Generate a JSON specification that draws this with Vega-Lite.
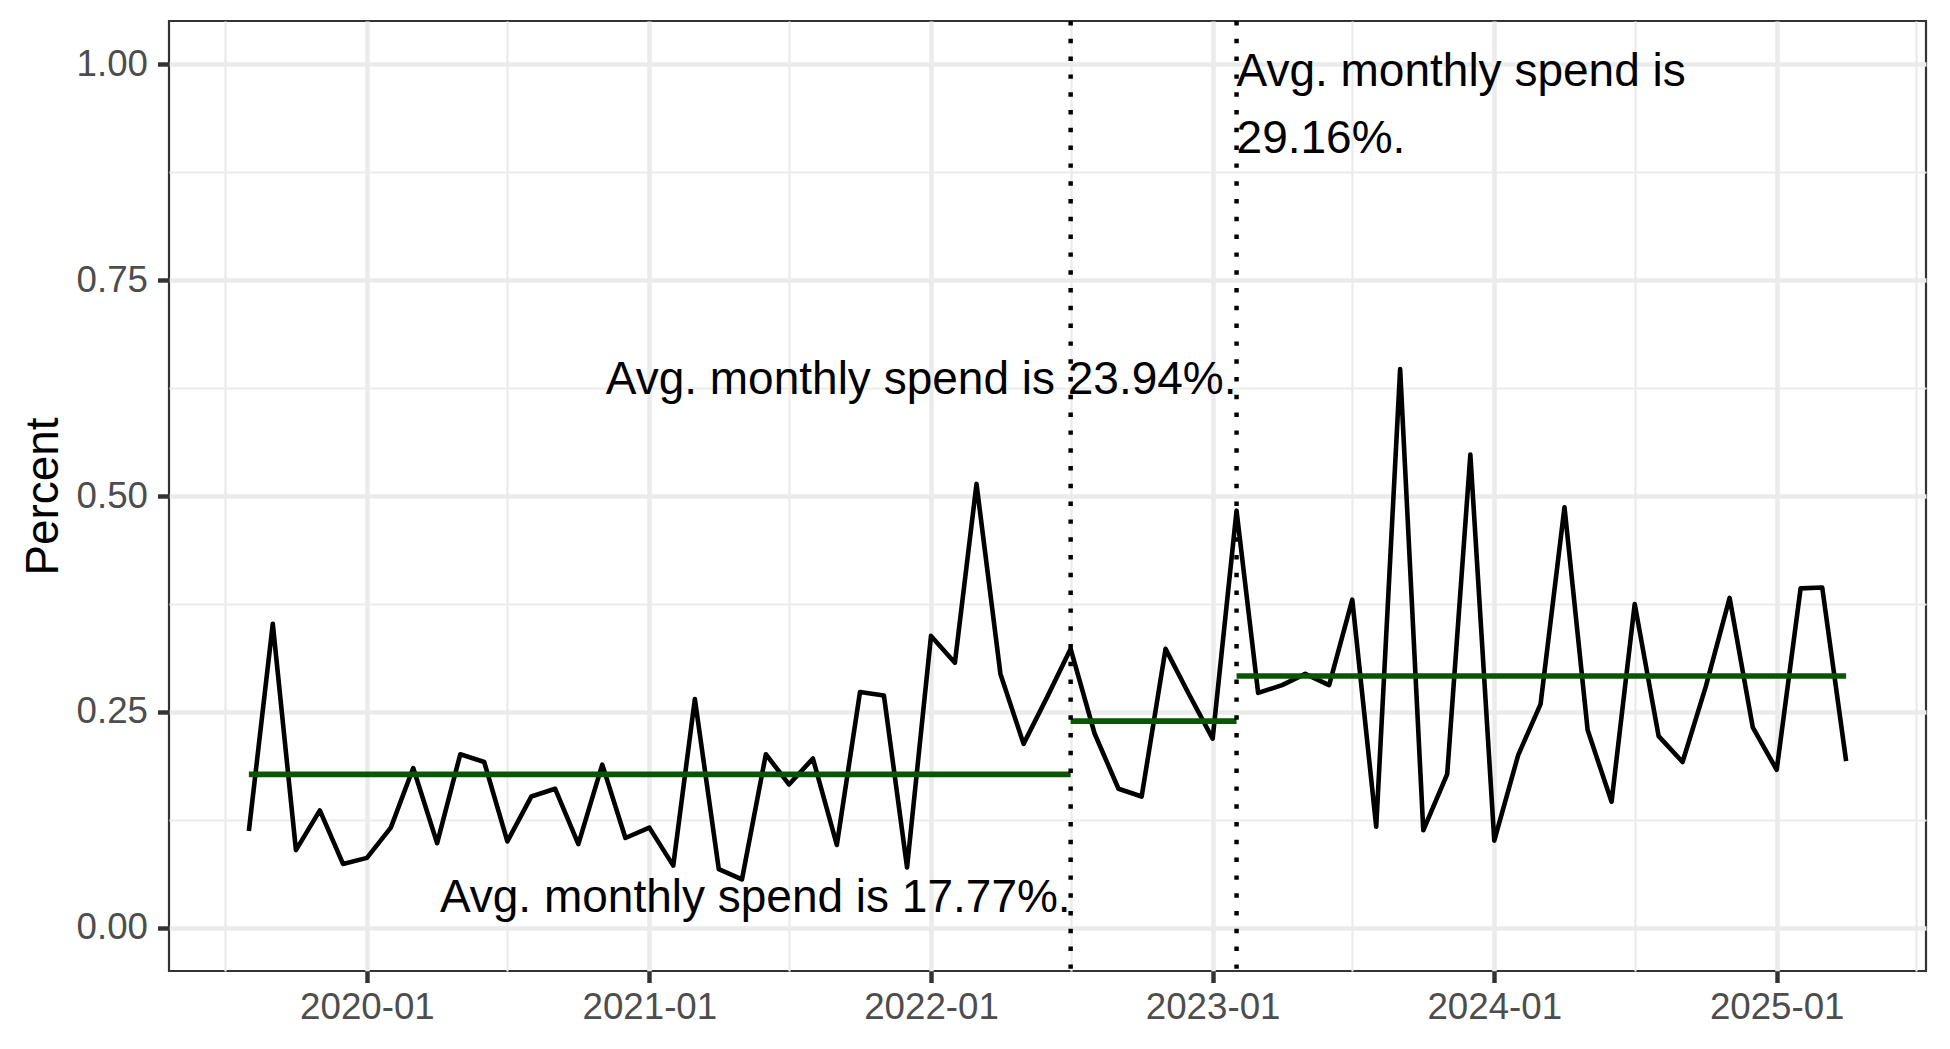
{
  "$schema": "https://vega.github.io/schema/vega-lite/v6.json",
  "width": 1757,
  "height": 950,
  "autosize": {"type": "none"},
  "padding": {"left": 169, "top": 21, "right": 24, "bottom": 78},
  "background": "white",
  "config": {
    "font": "Liberation Sans",
    "view": {"stroke": "#333333", "strokeWidth": 2.2},
    "axis": {
      "gridColor": "#EBEBEB",
      "domain": false,
      "tickColor": "#333333",
      "tickSize": 11.5,
      "tickWidth": 4.45,
      "labelFont": "Liberation Sans",
      "labelFontSize": 36.7,
      "labelColor": "#4D4D4D",
      "titleFont": "Liberation Sans",
      "titleFontSize": 45.8,
      "titleColor": "black",
      "titleFontWeight": "normal"
    }
  },
  "datasets": {
    "series": [
      {"date": "2019-08-01", "value": 0.112},
      {"date": "2019-09-01", "value": 0.352},
      {"date": "2019-10-01", "value": 0.090},
      {"date": "2019-11-01", "value": 0.136},
      {"date": "2019-12-01", "value": 0.074},
      {"date": "2020-01-01", "value": 0.081},
      {"date": "2020-02-01", "value": 0.116},
      {"date": "2020-03-01", "value": 0.185},
      {"date": "2020-04-01", "value": 0.098},
      {"date": "2020-05-01", "value": 0.201},
      {"date": "2020-06-01", "value": 0.192},
      {"date": "2020-07-01", "value": 0.100},
      {"date": "2020-08-01", "value": 0.152},
      {"date": "2020-09-01", "value": 0.161},
      {"date": "2020-10-01", "value": 0.097},
      {"date": "2020-11-01", "value": 0.189},
      {"date": "2020-12-01", "value": 0.104},
      {"date": "2021-01-01", "value": 0.116},
      {"date": "2021-02-01", "value": 0.072},
      {"date": "2021-03-01", "value": 0.265},
      {"date": "2021-04-01", "value": 0.068},
      {"date": "2021-05-01", "value": 0.056},
      {"date": "2021-06-01", "value": 0.201},
      {"date": "2021-07-01", "value": 0.166},
      {"date": "2021-08-01", "value": 0.196},
      {"date": "2021-09-01", "value": 0.096},
      {"date": "2021-10-01", "value": 0.273},
      {"date": "2021-11-01", "value": 0.269},
      {"date": "2021-12-01", "value": 0.070},
      {"date": "2022-01-01", "value": 0.338},
      {"date": "2022-02-01", "value": 0.307},
      {"date": "2022-03-01", "value": 0.514},
      {"date": "2022-04-01", "value": 0.294},
      {"date": "2022-05-01", "value": 0.213},
      {"date": "2022-06-01", "value": 0.268},
      {"date": "2022-07-01", "value": 0.323},
      {"date": "2022-08-01", "value": 0.225},
      {"date": "2022-09-01", "value": 0.161},
      {"date": "2022-10-01", "value": 0.152},
      {"date": "2022-11-01", "value": 0.323},
      {"date": "2022-12-01", "value": 0.271},
      {"date": "2023-01-01", "value": 0.219},
      {"date": "2023-02-01", "value": 0.483},
      {"date": "2023-03-01", "value": 0.272},
      {"date": "2023-04-01", "value": 0.281},
      {"date": "2023-05-01", "value": 0.294},
      {"date": "2023-06-01", "value": 0.281},
      {"date": "2023-07-01", "value": 0.380},
      {"date": "2023-08-01", "value": 0.117},
      {"date": "2023-09-01", "value": 0.647},
      {"date": "2023-10-01", "value": 0.113},
      {"date": "2023-11-01", "value": 0.178},
      {"date": "2023-12-01", "value": 0.548},
      {"date": "2024-01-01", "value": 0.101},
      {"date": "2024-02-01", "value": 0.200},
      {"date": "2024-03-01", "value": 0.259},
      {"date": "2024-04-01", "value": 0.487},
      {"date": "2024-05-01", "value": 0.229},
      {"date": "2024-06-01", "value": 0.146},
      {"date": "2024-07-01", "value": 0.375},
      {"date": "2024-08-01", "value": 0.222},
      {"date": "2024-09-01", "value": 0.192},
      {"date": "2024-10-01", "value": 0.279},
      {"date": "2024-11-01", "value": 0.382},
      {"date": "2024-12-01", "value": 0.232},
      {"date": "2025-01-01", "value": 0.183},
      {"date": "2025-02-01", "value": 0.393},
      {"date": "2025-03-01", "value": 0.394},
      {"date": "2025-04-01", "value": 0.193}
    ],
    "averages": [
      {"date": "2019-08-01", "date_end": "2022-07-01", "value": 0.1777},
      {"date": "2022-07-01", "date_end": "2023-02-01", "value": 0.2394},
      {"date": "2023-02-01", "date_end": "2025-04-01", "value": 0.2916}
    ],
    "breaks": [
      {"date": "2022-07-01"},
      {"date": "2023-02-01"}
    ],
    "notesRight": [
      {"date": "2022-07-01", "value": 0.0183, "label": "Avg. monthly spend is 17.77%."},
      {"date": "2023-02-01", "value": 0.618, "label": "Avg. monthly spend is 23.94%."}
    ],
    "notesLeft": [
      {"date": "2023-02-01", "value": 0.9748, "label": "Avg. monthly spend is\n29.16%."}
    ]
  },
  "layer": [
    {
      "data": {"name": "series"},
      "mark": {"type": "line", "color": "black", "strokeWidth": 4.6, "strokeJoin": "round", "strokeCap": "butt"},
      "encoding": {
        "x": {
          "field": "date",
          "type": "temporal",
          "title": null,
          "scale": {
            "type": "utc",
            "domain": [
              {"year": 2019, "month": 4, "date": 19, "hours": 12, "utc": true},
              {"year": 2025, "month": 7, "date": 13, "hours": 12, "utc": true}
            ],
            "nice": false
          },
          "axis": {
            "values": [
              {"year": 2019, "month": 7, "date": 1, "utc": true},
              {"year": 2020, "month": 1, "date": 1, "utc": true},
              {"year": 2020, "month": 7, "date": 1, "utc": true},
              {"year": 2021, "month": 1, "date": 1, "utc": true},
              {"year": 2021, "month": 7, "date": 1, "utc": true},
              {"year": 2022, "month": 1, "date": 1, "utc": true},
              {"year": 2022, "month": 7, "date": 1, "utc": true},
              {"year": 2023, "month": 1, "date": 1, "utc": true},
              {"year": 2023, "month": 7, "date": 1, "utc": true},
              {"year": 2024, "month": 1, "date": 1, "utc": true},
              {"year": 2024, "month": 7, "date": 1, "utc": true},
              {"year": 2025, "month": 1, "date": 1, "utc": true},
              {"year": 2025, "month": 7, "date": 1, "utc": true}
            ],
            "labelExpr": "utcmonth(datum.value) == 0 ? utcFormat(datum.value, '%Y-%m') : ''",
            "gridWidth": {"condition": {"test": "utcmonth(datum.value) == 0", "value": 4.45}, "value": 2.2},
            "tickOpacity": {"condition": {"test": "utcmonth(datum.value) == 0", "value": 1}, "value": 0},
            "labelPadding": 7,
            "labelFlush": false,
            "labelOverlap": false,
            "title": null
          }
        },
        "y": {
          "field": "value",
          "type": "quantitative",
          "title": "Percent",
          "scale": {"domain": [-0.05, 1.05], "nice": false, "zero": false},
          "axis": {
            "values": [0, 0.125, 0.25, 0.375, 0.5, 0.625, 0.75, 0.875, 1],
            "labelExpr": "datum.value % 0.25 == 0 ? format(datum.value, '.2f') : ''",
            "gridWidth": {"condition": {"test": "datum.value % 0.25 == 0", "value": 4.45}, "value": 2.2},
            "tickOpacity": {"condition": {"test": "datum.value % 0.25 == 0", "value": 1}, "value": 0},
            "labelPadding": 10,
            "titlePadding": 9,
            "labelOverlap": false,
            "title": "Percent"
          }
        }
      }
    },
    {
      "data": {"name": "averages"},
      "mark": {"type": "rule", "color": "#0c5406", "strokeWidth": 5.7, "strokeCap": "butt"},
      "encoding": {
        "x": {"field": "date", "type": "temporal", "title": null},
        "x2": {"field": "date_end"},
        "y": {"field": "value", "type": "quantitative", "title": "Percent"}
      }
    },
    {
      "data": {"name": "breaks"},
      "mark": {"type": "rule", "color": "black", "strokeWidth": 4.45, "strokeDash": [4.45, 13.35], "strokeCap": "butt"},
      "encoding": {
        "x": {"field": "date", "type": "temporal", "title": null}
      }
    },
    {
      "data": {"name": "notesRight"},
      "mark": {"type": "text", "align": "right", "baseline": "alphabetic", "fontSize": 46, "color": "black", "font": "Liberation Sans"},
      "encoding": {
        "x": {"field": "date", "type": "temporal", "title": null},
        "y": {"field": "value", "type": "quantitative", "title": "Percent"},
        "text": {"field": "label", "type": "nominal"}
      }
    },
    {
      "data": {"name": "notesLeft"},
      "mark": {"type": "text", "align": "left", "baseline": "alphabetic", "fontSize": 46, "color": "black", "font": "Liberation Sans", "lineBreak": "\n", "lineHeight": 67},
      "encoding": {
        "x": {"field": "date", "type": "temporal", "title": null},
        "y": {"field": "value", "type": "quantitative", "title": "Percent"},
        "text": {"field": "label", "type": "nominal"}
      }
    }
  ]
}
